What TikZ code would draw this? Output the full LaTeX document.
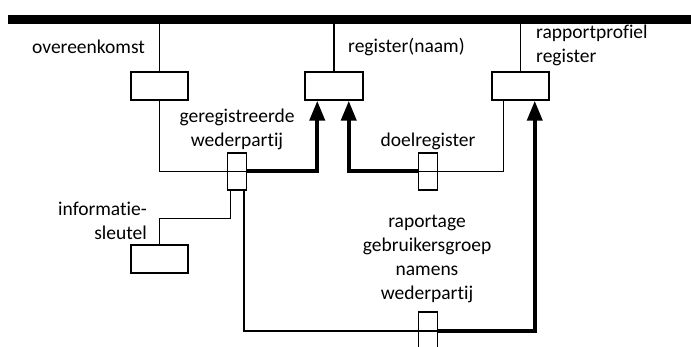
\documentclass[tikz,border=0pt]{standalone}
\usepackage{fontspec}
\setmainfont{Carlito}[Ligatures=NoCommon]
\usetikzlibrary{arrows.meta}
\begin{document}
\begin{tikzpicture}[x=1pt,y=-1pt,
  box/.style={draw, line width=1.5pt, minimum width=57pt, minimum height=28pt, inner sep=0pt},
  sbox/.style={draw, line width=1.5pt, minimum width=19pt, minimum height=37pt, inner sep=0pt},
  thinln/.style={line width=1.5pt},
  thickarr/.style={line width=4pt, -{Triangle[width=15pt,length=20pt]}},
  lbl/.style={inner sep=0pt, font=\fontsize{19.5}{24}\selectfont},
]
\useasboundingbox (0,0) rectangle (691,347);
% top bar
\node[fill=black, minimum width=700pt, minimum height=9pt, inner sep=0pt, anchor=west] (bar) at (8,19.5) {};
% boxes
\node[box] (b1) at (159.5,86) {};
\node[box, minimum width=58pt] (b2) at (334,86) {};
\node[box] (b3) at (520.5,86) {};
\node[box] (b4) at (159.5,259) {};
\node[sbox] (s1) at (237,171.5) {};
\node[sbox] (s2) at (428,171.5) {};
\node[sbox, minimum height=38pt] (s3) at (428,331) {};
% lines from bar
\draw[thinln] (b1.north) -- (b1.north |- bar.south);
\draw[thinln] (b2.north) -- (b2.north |- bar.south);
\draw[thinln] (b3.north) -- (b3.north |- bar.south);
% geregistreerde wederpartij
\draw[thinln] (b1.south) |- (s1.east);
\draw[thickarr] (s1.east) -| ([xshift=13pt]b2.south west);
% doelregister
\draw[thinln] ([xshift=12pt]b3.south west) |- (s2.west);
\draw[thickarr] (s2.west) -| ([xshift=-15pt]b2.south east);
% informatiesleutel
\draw[thinln] ([xshift=3.5pt]s1.south west) |- ++(0,28) -| (b4.north);
% raportage
\draw[thinln] ([xshift=-3.5pt]s1.south east) |- (s3.east);
\draw[thickarr] (s3.east) -| ([xshift=-15pt]b3.south east);
% labels
\node[lbl, anchor=base west] (l1) at (32,54) {overeenkomst};
\node[lbl, anchor=base west] (l2) at (348,53) {register(naam)};
\node[lbl, anchor=base west, align=left] (l3) at (536,63) {rapportprofiel\\register};
\node[lbl, anchor=base, align=center] (l4) at (237,147) {geregistreerde\\wederpartij};
\node[lbl, anchor=base] (l5) at (428,147) {doelregister};
\node[lbl, anchor=base east, align=right] (l6) at (147,240) {informatie-\\sleutel};
\node[lbl, anchor=base, align=center] (l7) at (427,300) {raportage\\gebruikersgroep\\namens\\wederpartij};
\end{tikzpicture}
\end{document}
